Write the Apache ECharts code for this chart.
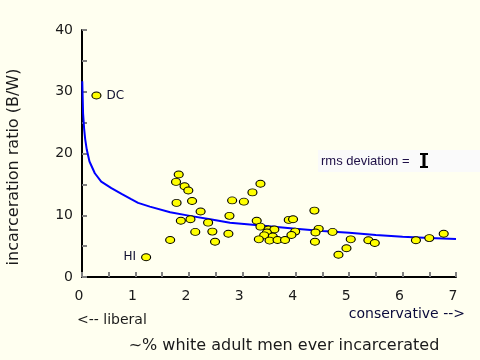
<!DOCTYPE html>
<html><head><meta charset="utf-8">
<script src="https://cdn.jsdelivr.net/npm/echarts@6/dist/echarts.min.js"></script>
<style>html,body{margin:0;padding:0;background:#fffff0;}#c{width:480px;height:360px;}</style>
</head><body><div id="c"></div>
<script>
// scatter data (one point per state)
const stateX = [0.27, 1.20, 1.65, 1.76, 1.81, 1.92, 1.99, 1.77, 2.06, 1.85, 2.03, 2.22, 2.36, 2.12, 2.44, 2.49, 2.74, 2.76, 2.81, 3.03,
  3.19, 3.34, 3.27, 3.34, 3.49, 3.60, 3.46, 3.41, 3.57, 3.31, 3.51, 3.66, 3.80, 3.87, 3.95, 3.99, 3.92, 4.35, 4.43, 4.37,
  4.36, 4.69, 4.80, 4.95, 5.03, 5.36, 5.48, 6.25, 6.50, 6.77];
const stateY = [29.4, 3.2, 6.0, 15.4, 16.6, 14.7, 14.0, 12.0, 12.3, 9.1, 9.35, 10.6, 8.8, 7.3, 7.35, 5.7, 7.0, 9.9, 12.4, 12.2,
  13.7, 15.1, 9.1, 8.15, 7.7, 7.7, 7.2, 6.75, 6.55, 6.1, 5.9, 6.0, 6.0, 9.25, 9.35, 7.35, 6.8, 10.75, 7.8, 7.2,
  5.7, 7.3, 3.6, 4.65, 6.1, 5.95, 5.5, 5.95, 6.3, 7.0];
const stateNames = ['DC', 'HI'];
// fitted curve
const fitX = [0.005, 0.02, 0.04, 0.06, 0.09, 0.14, 0.24, 0.36, 0.55, 0.74, 0.92, 1.05, 1.27, 1.65, 2.02, 2.4, 2.77, 3.14, 3.5, 4.0, 4.5, 5.0, 5.5, 6.0, 6.5, 7.0];
const fitY = [31.7, 26.5, 24.0, 22.3, 20.6, 18.7, 16.8, 15.45, 14.4, 13.45, 12.6, 12.0, 11.4, 10.5, 9.9, 9.35, 8.8, 8.5, 8.2, 7.8, 7.45, 7.15, 6.8, 6.5, 6.3, 6.15];
const xTicks = [0, 1, 2, 3, 4, 5, 6, 7];
const yTicks = [0, 10, 20, 30, 40];

const FONT = 'DejaVu Sans';
const scatterData = stateX.map((x, i) => {
  const item = { value: [x, stateY[i]], name: stateNames[i] || '' };
  if (stateNames[i] === 'DC') item.label = { show: true, position: 'right', distance: 5 };
  if (stateNames[i] === 'HI') item.label = { show: true, position: 'left', distance: 5 };
  return item;
});
const fitData = fitX.map((x, i) => [x, fitY[i]]);

const tickStyle = { color: '#808080', width: 2 };
const chart = echarts.init(document.getElementById('c'), null, { renderer: 'canvas' });
chart.setOption({
  backgroundColor: '#fffff0',
  animation: false,
  grid: { left: 82, right: 24, top: 30, bottom: 83 },
  xAxis: {
    type: 'value', min: xTicks[0], max: xTicks[xTicks.length - 1], interval: 1,
    splitLine: { show: false },
    axisLine: { onZero: false, lineStyle: { color: '#000', width: 2 } },
    axisTick: { inside: true, length: 5, lineStyle: tickStyle },
    minorTick: { show: true, splitNumber: 2, length: 5, lineStyle: tickStyle },
    axisLabel: { margin: 12, fontFamily: FONT, fontSize: 14, color: '#1a1a1a', padding: [0, 6, 0, 0],
      formatter: v => xTicks.includes(v) ? String(v) : '' }
  },
  yAxis: {
    type: 'value', min: yTicks[0], max: yTicks[yTicks.length - 1], interval: 10,
    splitLine: { show: false },
    axisLine: { show: true, onZero: false, lineStyle: { color: '#000', width: 2 } },
    axisTick: { show: true, inside: true, length: 5, lineStyle: tickStyle },
    minorTick: { show: true, splitNumber: 2, length: 5, lineStyle: tickStyle },
    axisLabel: { margin: 9, fontFamily: FONT, fontSize: 14, color: '#1a1a1a',
      formatter: v => yTicks.includes(v) ? String(v) : '' }
  },
  series: [
    { type: 'line', data: fitData, showSymbol: false, symbol: 'none', smooth: false,
      lineStyle: { color: '#0000ff', width: 2 }, z: 2 },
    { type: 'scatter', data: scatterData, symbol: 'circle', symbolSize: [9, 7],
      itemStyle: { color: '#ffff00', borderColor: '#000', borderWidth: 1, opacity: 1 },
      label: { show: false, formatter: '{b}', fontFamily: FONT, fontSize: 12, color: '#101030' }, z: 3 }
  ],
  graphic: [
    { type: 'text', x: 14, y: 167, rotation: Math.PI / 2,
      style: { text: 'incarceration ratio (B/W)', font: '16px "DejaVu Sans"', fill: '#1a1a1a', textAlign: 'center', textVerticalAlign: 'middle' } },
    { type: 'text', x: 284, y: 346,
      style: { text: '~% white adult men ever incarcerated', font: '16px "DejaVu Sans"', fill: '#1a1a1a', textAlign: 'center', textVerticalAlign: 'middle' } },
    { type: 'text', x: 77, y: 320,
      style: { text: '<-- liberal', font: '14px "DejaVu Sans"', fill: '#1a1a1a', textAlign: 'left', textVerticalAlign: 'middle' } },
    { type: 'text', x: 465, y: 314,
      style: { text: 'conservative -->', font: '14px "DejaVu Sans"', fill: '#0a0a3a', textAlign: 'right', textVerticalAlign: 'middle' } },
    { type: 'rect', shape: { x: 318, y: 150, width: 162, height: 22 }, style: { fill: '#fafafa' }, z: 0 },
    { type: 'text', x: 321, y: 161,
      style: { text: 'rms deviation =', font: '13px "Liberation Sans"', fill: '#1e0f46', textAlign: 'left', textVerticalAlign: 'middle' } },
    { type: 'line', shape: { x1: 424, y1: 154, x2: 424, y2: 167 }, style: { stroke: '#000', lineWidth: 3 } },
    { type: 'line', shape: { x1: 420, y1: 154, x2: 428, y2: 154 }, style: { stroke: '#000', lineWidth: 2 } },
    { type: 'line', shape: { x1: 420, y1: 167, x2: 428, y2: 167 }, style: { stroke: '#000', lineWidth: 2 } }
  ]
});
</script>
</body></html>
